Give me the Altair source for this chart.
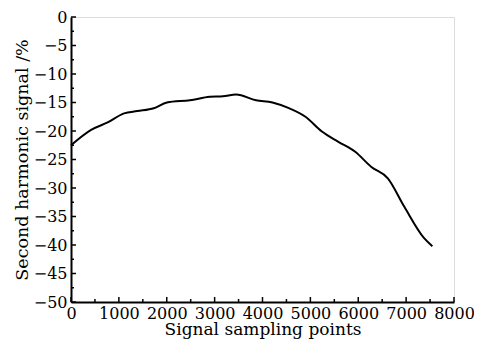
import altair as alt
import pandas as pd

# Curve
x_points = [0, 420, 765, 1109, 1384, 1729, 2004, 2486, 2899, 3175, 3450, 3864,
            4208, 4552, 4897, 5241, 5585, 5930, 6274, 6618, 6963, 7376, 7548]
y_values = [-22.5, -19.8, -18.5, -16.9, -16.5, -16.0, -15.0, -14.6, -14.0, -13.9, -13.6, -14.6,
            -15.0, -16.0, -17.5, -20.1, -21.9, -23.6, -26.3, -28.3, -33.3, -38.8, -40.2]

x_major = [0, 1000, 2000, 3000, 4000, 5000, 6000, 7000, 8000]
x_minor = [500, 1500, 2500, 3500, 4500, 5500, 6500, 7500]
y_major = [0, -5, -10, -15, -20, -25, -30, -35, -40, -45, -50]
y_minor = [-2.5, -7.5, -12.5, -17.5, -22.5, -27.5, -32.5, -37.5, -42.5, -47.5]

W, H = 383, 285
FONT = "DejaVu Serif"

df = pd.DataFrame({"x": x_points, "y": y_values})

xscale = alt.Scale(domain=[0, 8000], nice=False, zero=False)
yscale = alt.Scale(domain=[-50, 0], nice=False, zero=False)

xaxis = alt.Axis(values=x_major, ticks=False, grid=False, title="Signal sampling points",
                 format="d", labelOverlap=False,
                 labelFont=FONT, labelFontSize=16, titleFont=FONT, titleFontSize=17,
                 titleFontWeight="normal", labelColor="black", titleColor="black",
                 domainColor="black", domainWidth=2, labelPadding=3, titlePadding=0,
                 labelFlush=False)
yaxis = alt.Axis(values=y_major, ticks=False, grid=False, title="Second harmonic signal /%",
                 format="d", labelOverlap=False,
                 labelFont=FONT, labelFontSize=16, titleFont=FONT, titleFontSize=17.5,
                 titleFontWeight="normal", labelColor="black", titleColor="black",
                 domainColor="black", domainWidth=2, labelPadding=4, titlePadding=2,
                 labelFlush=False)

line = alt.Chart(df).mark_line(color="black", strokeWidth=2, interpolate="monotone").encode(
    x=alt.X("x:Q", scale=xscale, axis=xaxis),
    y=alt.Y("y:Q", scale=yscale, axis=yaxis),
)

def xticks(vals, length):
    return alt.Chart(pd.DataFrame({"x": vals})).mark_rule(color="black", strokeWidth=1.5).encode(
        x=alt.X("x:Q", scale=xscale, axis=xaxis),
        y=alt.value(H),
        y2=alt.value(H - length),
    )

def yticks(vals, length):
    return alt.Chart(pd.DataFrame({"y": vals})).mark_rule(color="black", strokeWidth=1.5).encode(
        y=alt.Y("y:Q", scale=yscale, axis=yaxis),
        x=alt.value(0),
        x2=alt.value(length),
    )

chart = alt.layer(
    line,
    xticks(x_major, 5), xticks(x_minor, 3),
    yticks(y_major, 5), yticks(y_minor, 3),
).properties(
    width=W, height=H,
    autosize=alt.AutoSizeParams(type="none"),
    padding={"left": 63, "top": 9, "right": 20, "bottom": 45},
).configure_view(stroke=None).configure(background="white")

chart.save("out.html", embed_options={"renderer": "svg", "actions": False})
